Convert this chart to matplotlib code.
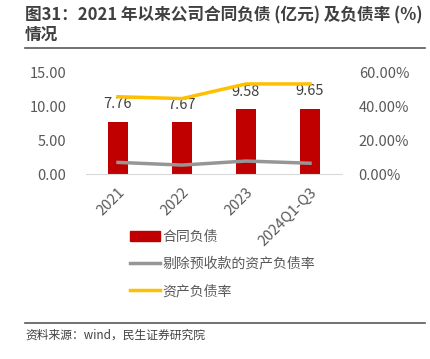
import matplotlib.pyplot as plt
import numpy as np
from matplotlib.lines import Line2D
from matplotlib.patches import Patch

plt.rcParams['font.family'] = ['Noto Sans CJK SC', 'DejaVu Sans']

years = ["2021", "2022", "2023", "2024Q1-Q3"]
contract_liab = [7.76, 7.67, 9.58, 9.65]
adj_debt_ratio = [6.9, 5.3, 7.7, 6.4]
debt_ratio = [45.9, 44.8, 53.5, 53.5]

red = "#C00000"
gray = "#969696"
yellow = "#FFC000"
txt = "#595959"

fig = plt.figure(figsize=(4.3, 3.59), dpi=100)
ax = fig.add_axes([86 / 430, 1 - 174 / 359, 256 / 430, 101 / 359])
x = np.arange(len(years))
ax.bar(x, contract_liab, width=0.31, color=red, zorder=2)
for xi, v in zip(x, contract_liab):
    ax.text(xi, v + 1.6, f"{v:.2f}", ha="center", va="bottom", fontsize=10.5, color="#404040")
ax.set_ylim(0, 15)
ax.set_xlim(-0.5, 3.5)
ax.set_yticks([0, 5, 10, 15])
ax.set_yticklabels([f"{t:.2f}" for t in [0, 5, 10, 15]])
ax.set_xticks(x)
ax.set_xticklabels(years, rotation=45, ha="right", rotation_mode="anchor")
for s in ["top", "right", "left"]:
    ax.spines[s].set_visible(False)
ax.spines["bottom"].set_color("#D9D9D9")
ax.tick_params(axis="y", length=0, labelsize=10.5, colors=txt, pad=14)
ax.tick_params(axis="x", length=0, labelsize=10.5, colors=txt, pad=8)

ax2 = ax.twinx()
ax2.plot(x, adj_debt_ratio, color=gray, lw=2.5, zorder=3)
ax2.plot(x, debt_ratio, color=yellow, lw=2.5, zorder=3)
ax2.set_ylim(0, 60)
ax2.set_yticks([0, 20, 40, 60])
ax2.set_yticklabels([f"{t:.2f}%" for t in [0, 20, 40, 60]])
for s in ax2.spines.values():
    s.set_visible(False)
ax2.tick_params(length=0, labelsize=10.5, colors=txt, pad=12)

handles = [Patch(color=red), Line2D([], [], color=gray, lw=2.5), Line2D([], [], color=yellow, lw=2.5)]
labels = ["合同负债", "剔除预收款的资产负债率", "资产负债率"]
fig.legend(handles, labels, loc="upper left", bbox_to_anchor=(117 / 430, 1 - 217 / 359),
           frameon=False, fontsize=10, labelcolor=txt, handlelength=2.2, handletextpad=0.2,
           labelspacing=0.95)

fig.text(25 / 430, 1 - 6 / 359, "图31：2021 年以来公司合同负债 (亿元) 及负债率 (%)\n情况",
         ha="left", va="top", fontsize=12, fontweight="bold", color="#404040", linespacing=1.15)
fig.add_artist(Line2D([25 / 430, 425 / 430], [1 - 48 / 359] * 2, color="#595959", lw=1.2))
fig.add_artist(Line2D([25 / 430, 425 / 430], [1 - 323 / 359] * 2, color="#595959", lw=1.2))
fig.text(25 / 430, 1 - 335 / 359, "资料来源：wind，民生证券研究院", ha="left", va="center",
         fontsize=8.5, color="#404040")

fig.savefig("out.png", dpi=100)
